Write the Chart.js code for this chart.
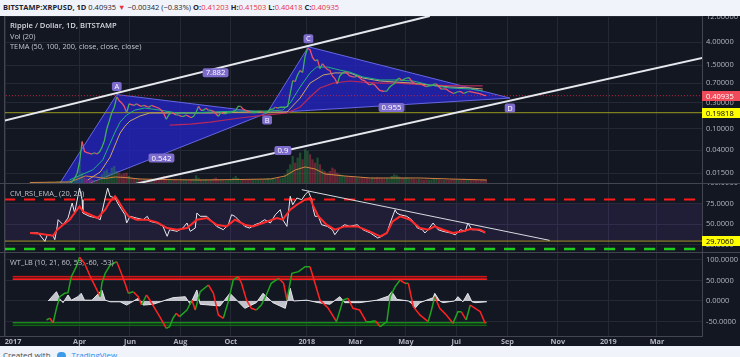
<!DOCTYPE html>
<html><head><meta charset="utf-8">
<script src="https://cdn.jsdelivr.net/npm/chart.js@4.4.1/dist/chart.umd.min.js"></script>
<style>
html,body{margin:0;padding:0;}
body{width:740px;height:357px;overflow:hidden;background:#f0f3fa;font-family:"Open Sans","Noto Sans",sans-serif;position:relative;}
#hdr{position:absolute;left:3px;top:0;height:16px;line-height:15px;font-size:7.5px;color:#1e222d;white-space:nowrap;}
#hdr b{font-weight:700}
#hdr .r{color:#e8313f}
#dark{position:absolute;left:0;top:16px;width:740px;height:330px;background:#131722;}
canvas{position:absolute;left:0;display:block}
#c1{top:16px}#c2{top:183px}#c3{top:252px}
#ftr{position:absolute;left:3px;top:350px;font-size:8px;line-height:10px;color:#4a4a4a;white-space:nowrap}
#ftr .tv{color:#2a8ef0}
#ftr .logo{display:inline-block;width:9px;height:6px;background:#3d9be9;border-radius:4px 4px 2px 2px;margin:0 6px 0 6px}
</style></head><body>
<div id="hdr"><b>BITSTAMP:XRPUSD, 1D</b> 0.40935 <span class="r">▼</span> −0.00342 (−0.83%) <b>O:</b><span class="r">0.41203</span> <b>H:</b><span class="r">0.41503</span> <b>L:</b><span class="r">0.40418</span> <b>C:</b><span class="r">0.40935</span></div>
<div id="dark"></div>
<canvas id="c1" width="740" height="167"></canvas>
<canvas id="c2" width="740" height="69"></canvas>
<canvas id="c3" width="740" height="94"></canvas>
<div id="ftr">Created with<span class="logo"></span><span class="tv">TradingView</span></div>
<script>
const FONT = '"Open Sans","Noto Sans",sans-serif';
const TXT = '#b2b5be', GRID = '#252936', AXIS = '#434651';
const X_MIN = -1.5, X_MAX = 843.5;          // days since 2017-01-01

// ---- time axis ----
const monthTickDays   = [0, 90, 151, 212, 273, 365, 424, 485, 546, 608, 669, 730, 789];
const monthTickLabels = ['2017','Apr','Jun','Aug','Oct','2018','Mar','May','Jul','Sep','Nov','2019','Mar'];

// ---- main pane: price (closes every 3 days from day 30) ----
const priceStartDay = 30, priceStepDays = 3;
const priceClose = [
 0.0064,0.0064,0.0063,0.0063,0.0062,0.0062,0.0063,0.0063,0.0064,0.0063,
 0.0064,0.0070,0.0075,0.0083,0.0088,0.0091,0.0095,0.0105,0.0120,0.0150,
 0.0240,0.0580,0.0380,0.0360,0.0350,0.0340,0.0360,0.0340,0.0370,0.0450,
 0.060,0.100,0.140,0.200,0.250,0.390,0.330,0.300,0.260,0.200,
 0.290,0.280,0.270,0.290,0.270,0.260,0.270,0.260,0.250,0.270,
 0.260,0.250,0.240,0.220,0.190,0.150,0.180,0.200,0.190,0.180,
 0.180,0.170,0.170,0.180,0.170,0.160,0.170,0.200,0.260,0.220,
 0.220,0.240,0.220,0.220,0.210,0.190,0.170,0.200,0.190,0.190,
 0.200,0.200,0.210,0.220,0.260,0.260,0.230,0.220,0.210,0.200,
 0.200,0.200,0.210,0.210,0.200,0.200,0.210,0.230,0.230,0.250,
 0.240,0.250,0.250,0.250,0.260,0.450,0.780,0.750,1.000,1.200,
 1.100,2.200,3.100,2.900,2.100,1.800,1.900,1.300,1.600,1.400,
 1.250,1.200,0.950,0.850,0.680,0.950,1.050,1.150,1.050,0.950,
 0.920,0.900,0.950,0.880,0.800,0.780,0.700,0.650,0.680,0.660,
 0.580,0.520,0.500,0.490,0.500,0.580,0.640,0.680,0.800,0.870,
 0.780,0.830,0.870,0.880,0.760,0.700,0.680,0.690,0.670,0.630,
 0.600,0.620,0.630,0.670,0.680,0.600,0.540,0.550,0.540,0.500,
 0.470,0.450,0.470,0.490,0.480,0.450,0.470,0.490,0.480,0.470,
 0.460,0.450,0.440,0.420,0.409];
const volume = [
 1,2,1,1,2,1,1,2,3,2,
 2,4,5,6,4,6,8,7,12,20,
 60,30,15,12,10,9,8,7,12,25,
 35,40,30,45,50,35,30,25,28,30,
 20,15,12,14,12,10,11,9,10,12,
 10,9,12,14,20,12,10,9,8,8,
 7,8,9,8,9,10,12,22,15,10,
 9,10,8,9,12,15,10,8,8,7,
 8,9,15,20,14,10,9,8,8,9,
 9,10,9,11,10,12,14,13,12,12,
 14,13,15,25,40,55,80,60,75,90,
 70,100,95,85,70,60,75,55,40,35,
 30,35,45,40,30,25,22,20,18,20,
 18,16,15,14,16,15,14,13,15,14,
 16,14,13,12,14,12,20,25,22,18,
 15,14,16,13,12,11,10,11,10,9,
 10,9,10,12,11,10,9,8,9,8,
 10,9,8,8,9,12,10,9,8,8,
 8,7,8,9,8];
const volMaDays = [30,78,88,97,109,121,133,145,163,187,236,284,321,339,351,363,375,387,411,442,502,538,583];
const volMaVals = [1.5,3,12,21,18,13.5,18,16.5,12,10.5,9,10.5,12,21,39,48,42,27,21,15,15,12,9];

const tema50Days = [78,106,118,127,133,139,147,157,169,187,208,227,248,284,320,336,345,357,369,377,390,405,417,433,454,474,494,514,538,563,578];
const tema50Vals = [0.0113,0.0173,0.0264,0.054,0.087,0.133,0.18,0.222,0.242,0.222,0.196,0.196,0.204,0.213,0.213,0.222,0.30,0.593,1.08,1.39,1.39,1.22,1.12,0.91,0.80,0.80,0.766,0.645,0.57,0.545,0.50];
const tema100Days = [100,115,127,133,139,145,151,163,175,208,248,296,341,357,369,385,399,417,433,454,474,494,514,538,563,578];
const tema100Vals = [0.0113,0.0158,0.030,0.050,0.083,0.112,0.139,0.172,0.196,0.196,0.196,0.204,0.204,0.37,0.70,0.99,1.08,1.08,0.87,0.766,0.73,0.70,0.645,0.593,0.57,0.545];
const tema200Days = [199,224,248,284,317,341,357,369,381,397,417,433,454,474,514,550,578];
const tema200Vals = [0.117,0.122,0.133,0.158,0.18,0.196,0.253,0.387,0.57,0.70,0.766,0.73,0.70,0.70,0.645,0.62,0.62];

const priceTicks = [12, 4, 1.5, 0.7, 0.3, 0.1, 0.04, 0.015];
const lastPrice = 0.40935, levelPrice = 0.19818;

// XABCD pattern drawing
const patternNames  = ['X','A','B','C','D'];
const patternDays   = [54, 135, 317, 367, 611];
const patternPrices = [0.0050, 0.43, 0.196, 3.3, 0.37];
const ratioFrom = [1, 0, 2, 0], ratioTo = [3, 2, 4, 4];
const ratioText = ['7.882', '0.542', '0.955', '0.9'];
// channel lines
const upperChDays = [-2, 514],  upperChPrices = [0.140, 12.25];
const lowerChDays = [50, 845],  lowerChPrices = [0.0041, 2.06];

// ---- RSI pane ----
const rsiDays = [30,40,48,51,58,60,63,64,70,76,81,84,88,90,93,94,102,111,115,121,124,127,133,136,141,145,147,151,159,167,172,175,184,191,196,199,208,215,220,224,230,232,236,244,250,256,264,270,274,278,284,290,296,302,308,314,321,327,333,336,341,345,348,353,359,363,367,371,373,375,379,383,390,396,399,405,411,417,426,433,442,451,456,462,466,472,474,478,486,492,499,505,508,512,518,524,530,539,545,551,557,560,565,571,577,581];
const rsiVals = [39.5,39.5,29.4,37.4,36,31.4,48,55.6,49.5,57.6,75.8,63.7,83.9,93.9,79.8,63.7,59.7,57.6,55.6,81.8,93.9,83.9,81.8,75.8,67.7,61.6,51.6,59.7,57.6,55.6,59.7,53.6,51.6,47.5,35.5,43.5,41.5,45.5,51.6,41.5,45.5,63.7,59.7,59.7,53.6,47.5,43.5,49.5,61.6,59.7,53.6,47.5,45.5,49.5,51.6,55.6,51.6,61.6,67.7,55.6,47.5,83.9,73.7,81.8,79.8,85.9,89.9,79.8,67.7,59.7,59.7,49.5,47.5,43.5,37.4,45.5,49.5,47.5,49.5,43.5,39.5,33.4,35.5,39.5,51.6,67.7,63.7,61.6,59.7,55.6,45.5,43.5,39.5,43.5,51.6,43.5,41.5,39.5,37.4,43.5,41.5,51.6,43.5,43.5,41.5,39.5];
const emaDays = [30,42,58,63,70,78,84,90,94,103,112,121,127,133,136,142,149,159,172,184,196,208,220,232,244,256,268,278,290,300,312,329,336,345,353,363,369,373,379,389,399,411,426,441,454,462,469,478,490,502,512,520,530,542,554,563,575,581];
const emaVals = [39.5,38.6,36.2,43.5,49.5,55.6,63.7,71.8,65.7,61.6,57.6,67.7,77.8,83.9,79.8,69.7,59.7,55.6,55.6,52.4,45.5,43.5,45.5,55.6,57.6,49.5,47.5,55.6,49.5,47.5,51.6,57.6,55.6,67.7,73.7,79.8,81.8,71.8,59.7,49.5,43.5,47.5,47.5,41.5,35.5,39.5,53.6,59.7,55.6,45.5,43.5,47.5,43.5,39.5,41.5,44.3,43.5,40.3];
const rsiTrendDays = [359, 659], rsiTrendVals = [91.9, 30.6];
const rsiTicks = [100, 75, 50, 25];
const rsiUpper = 80, rsiLower = 20, rsiLevel = 29.706, rsiBandTop = 75, rsiBandBottom = 30;

// ---- WaveTrend pane ----
const wtDays = [50,54,58,62,66,72,76,80,86,90,96,103,109,115,117,121,127,135,139,145,149,155,161,165,171,175,181,187,195,199,203,207,211,220,226,230,236,246,252,258,264,270,276,282,286,292,298,304,310,316,322,331,337,341,347,355,363,369,375,381,391,401,409,415,421,429,437,442,448,454,462,466,472,478,484,488,494,502,512,516,520,526,534,542,548,552,558,563,569,575,581];
const wtVals = [-46.3,-42,-53,-17.9,10.5,18.7,20.3,59.3,83.7,106.5,92,59.3,35,10.5,43,67.5,87.8,95.9,75.6,43.2,18.7,22.7,10.5,-9.8,14.6,2.4,-17.9,-38.2,-66.7,-62.6,-42.3,-30,-38.2,-22,2.4,-22,22.7,39,18.7,-34,-42.3,-1.6,51.2,59.3,43.2,2.4,-17.9,-22,-9.8,14.6,43.2,55.4,43.2,2.4,67.5,71.5,83.7,83.7,43.2,2.4,-17.9,-50.4,2.4,6.5,-17.9,-22,-50.4,-50.4,-48,-62.6,-50.4,10.5,35,51.2,43.2,43.2,-13.8,-34,-50.4,-22,10.5,-17.9,-34,-54.5,-26.1,-26.1,-46.3,-9.8,-17.9,-26.1,-54.5];
const wtHistDays = [52,62,66,70,76,80,88,92,96,105,113,117,121,127,139,147,161,167,179,203,218,224,232,236,260,272,290,304,312,324,339,345,349,365,379,393,405,411,429,450,464,468,474,488,492,496,502,518,520,526,530,544,548,554,560,565,569,583];
const wtHistVals = [0,22.7,5,-4,14.6,2,10.5,18.7,2,2,18.7,26.8,2,-2,-2,-10,6.5,-10,-8,8,10.5,-8,26.8,-8,-12,18.7,-18,-4,18.7,-4,-18,31,0,2,-4,-8,10.5,-4,-4,2,12,22.7,4,0,-6,-18,-4,8,18.7,0,-4,0,10.5,-2,18.7,-2,-4,-2];
const wtLevels = [60, 53, -53, -60];
const wtLevelDays = [9, 583];
const wtTicks = [100, 50, 0, -50];

// ---------------- helpers ----------------
Chart.defaults.font.family = FONT;
const pts = (days, vals) => days.map((d, i) => ({x: d, y: vals[i]}));
const priceDays = priceClose.map((_, i) => priceStartDay + i * priceStepDays);
const hline = (v, d0, d1) => [{x: d0, y: v}, {x: d1, y: v}];
const lineDs = (data, color, width, extra) => Object.assign({type: 'line', data, borderColor: color, borderWidth: width,
  pointRadius: 0, pointHoverRadius: 0, tension: 0, fill: false}, extra || {});

function xScale() {
  return {type: 'linear', min: X_MIN, max: X_MAX, offset: false, display: true,
    afterBuildTicks: s => { s.ticks = monthTickDays.map(v => ({value: v})); },
    afterFit: s => { s.height = 0; s.paddingLeft = 0; s.paddingRight = 0; },
    ticks: {display: false}, grid: {color: GRID, drawTicks: false, offset: false}, border: {display: false}};
}
function yScale(type, min, max, tickVals, dec) {
  return {type, position: 'right', min, max,
    afterBuildTicks: s => { s.ticks = tickVals.map(v => ({value: v})); },
    afterFit: s => { s.width = 38; s.paddingTop = 0; s.paddingBottom = 0; },
    ticks: {color: TXT, font: {family: FONT, size: 7.5}, padding: 4, autoSkip: false, callback: v => Number(v).toFixed(dec)},
    grid: {color: GRID, drawTicks: false}, border: {display: true, color: AXIS}};
}
function baseOpts(scales, padBottom) {
  return {responsive: false, animation: false, events: [], devicePixelRatio: 1,
    layout: {padding: {left: 4, right: 0, top: 0, bottom: padBottom}},
    plugins: {legend: {display: false}, tooltip: {enabled: false}}, scales};
}
function rr(ctx, x, y, w, h, r) {
  ctx.beginPath(); ctx.moveTo(x + r, y); ctx.arcTo(x + w, y, x + w, y + h, r); ctx.arcTo(x + w, y + h, x, y + h, r);
  ctx.arcTo(x, y + h, x, y, r); ctx.arcTo(x, y, x + w, y, r); ctx.closePath();
}
function tag(ctx, text, cx, cy, bg, fg, size, padX, h) {
  ctx.font = `${size}px ${FONT}`;
  const w = ctx.measureText(text).width + padX * 2;
  rr(ctx, cx - w / 2, cy - h / 2, w, h, 2); ctx.fillStyle = bg; ctx.fill();
  ctx.fillStyle = fg; ctx.textAlign = 'center'; ctx.textBaseline = 'middle'; ctx.fillText(text, cx, cy + 0.5);
}
function axisBox(chart, scaleId, value, text, bg, fg) {
  const ctx = chart.ctx, y = chart.scales[scaleId].getPixelForValue(value), a = chart.chartArea;
  ctx.fillStyle = bg; ctx.fillRect(a.right, Math.round(y) - 5, chart.width - a.right, 10);
  ctx.fillStyle = fg; ctx.font = `7.5px ${FONT}`; ctx.textAlign = 'left'; ctx.textBaseline = 'middle';
  ctx.fillText(text, a.right + 4, Math.round(y) + 0.5);
}
function frame(chart, top) {
  const ctx = chart.ctx, a = chart.chartArea;
  ctx.save(); ctx.strokeStyle = AXIS; ctx.lineWidth = 1;
  ctx.beginPath(); ctx.moveTo(a.left + 0.5, a.top); ctx.lineTo(a.left + 0.5, a.bottom); ctx.stroke();
  if (top) { ctx.beginPath(); ctx.moveTo(0, 0.5); ctx.lineTo(chart.width, 0.5); ctx.stroke(); }
  ctx.restore();
}
function legend(ctx, lines) {
  ctx.save(); ctx.textAlign = 'left'; ctx.textBaseline = 'middle';
  lines.forEach(l => { ctx.font = l.f; ctx.fillStyle = l.c; ctx.fillText(l.t, l.x, l.y); });
  ctx.restore();
}

// ---------------- main pane ----------------
const up = '#3fae5a', dn = '#f0506a';
const volColors = volume.map((_, i) => (i === 0 || priceClose[i] >= priceClose[i - 1]) ? 'rgba(50,150,70,0.42)' : 'rgba(220,60,80,0.42)');

const mainPlugin = {
  id: 'mainDraw',
  beforeDatasetsDraw(chart) {
    const {ctx, chartArea: a, scales: {x, y}} = chart;
    const P = k => [x.getPixelForValue(patternDays[k]), y.getPixelForValue(patternPrices[k])];
    ctx.save(); ctx.beginPath(); ctx.rect(a.left, a.top, a.right - a.left, a.bottom - a.top); ctx.clip();
    [[0, 1, 2], [2, 3, 4]].forEach(tri => {
      ctx.beginPath();
      tri.forEach((k, j) => { const [px, py] = P(k); j ? ctx.lineTo(px, py) : ctx.moveTo(px, py); });
      ctx.closePath(); ctx.fillStyle = 'rgba(36,36,196,0.78)'; ctx.fill();
      ctx.strokeStyle = 'rgba(110,110,240,0.9)'; ctx.lineWidth = 1; ctx.stroke();
    });
    ctx.restore();
  },
  afterDatasetsDraw(chart) {
    const {ctx, scales: {x, y}} = chart;
    const P = k => [x.getPixelForValue(patternDays[k]), y.getPixelForValue(patternPrices[k])];
    ctx.save();
    ratioText.forEach((t, i) => {
      const [x1, y1] = P(ratioFrom[i]), [x2, y2] = P(ratioTo[i]);
      tag(ctx, t, (x1 + x2) / 2 + 3, (y1 + y2) / 2 + 2, '#7e6ccc', '#ffffff', 7.8, 3, 9);
    });
    patternNames.forEach((n, k) => {
      if (k === 0) return;
      const [px, py] = P(k);
      const dy = (n === 'A' || n === 'C') ? -8 : (n === 'D' ? 10 : 7);
      tag(ctx, n, px, py + dy, '#7e6ccc', '#ffffff', 7.5, 2.5, 9);
    });
    ctx.restore();
  },
  afterDraw(chart) {
    frame(chart, false);
    axisBox(chart, 'y', lastPrice, '0.40935', '#f04b5b', '#ffffff');
    axisBox(chart, 'y', levelPrice, '0.19818', '#ffff00', '#000000');
    legend(chart.ctx, [
      {t: 'Ripple / Dollar, 1D, BITSTAMP', x: 10, y: 10, f: `600 7.6px ${FONT}`, c: '#d6d8de'},
      {t: 'Vol (20)', x: 10, y: 20.5, f: `7.4px ${FONT}`, c: '#c3c6ce'},
      {t: 'TEMA (50, 100, 200, close, close, close)', x: 10, y: 31, f: `7.4px ${FONT}`, c: '#c3c6ce'}]);
  }
};

new Chart(document.getElementById('c1'), {
  type: 'line',
  data: {datasets: [
    lineDs(pts(upperChDays, upperChPrices), '#e6e8ee', 2, {order: 1}),
    lineDs(pts(lowerChDays, lowerChPrices), '#e6e8ee', 2, {order: 1}),
    lineDs(pts(priceDays, priceClose), dn, 1.3, {order: 2,
      segment: {borderColor: c => c.p1.parsed.y >= c.p0.parsed.y ? up : dn}}),
    lineDs(pts(tema50Days, tema50Vals), '#22b07e', 1, {order: 3}),
    lineDs(pts(tema100Days, tema100Vals), '#c9a46c', 1, {order: 4}),
    lineDs(pts(tema200Days, tema200Vals), '#b8285a', 1.2, {order: 5}),
    lineDs(hline(lastPrice, X_MIN - 5, X_MAX + 5), '#c8283e', 1, {order: 6, borderDash: [1, 2]}),
    lineDs(hline(levelPrice, X_MIN - 5, X_MAX + 5), '#99991e', 1, {order: 7}),
    lineDs(pts(volMaDays, volMaVals), '#cf8440', 1, {order: 8, yAxisID: 'yVol'}),
    {type: 'bar', data: pts(priceDays, volume), yAxisID: 'yVol', backgroundColor: volColors, barThickness: 1.6, order: 9}
  ]},
  options: baseOpts({
    x: xScale(),
    y: yScale('logarithmic', 0.009895, 12.245, priceTicks, 5),
    yVol: {type: 'linear', display: false, min: 0, max: 500}
  }, 0),
  plugins: [mainPlugin]
});

// ---------------- RSI pane ----------------
const rsiPlugin = {
  id: 'rsiDraw',
  beforeDatasetsDraw(chart) {
    const {ctx, chartArea: a, scales: {y}} = chart;
    const t = y.getPixelForValue(rsiBandTop), b = y.getPixelForValue(rsiBandBottom);
    ctx.save(); ctx.fillStyle = 'rgba(126,70,200,0.13)'; ctx.fillRect(a.left, t, a.right - a.left, b - t); ctx.restore();
  },
  afterDraw(chart) {
    frame(chart, true);
    axisBox(chart, 'y', rsiLevel, '29.7060', '#ffff00', '#000000');
    legend(chart.ctx, [{t: 'CM_RSI_EMA_ (20, 20)', x: 10, y: 11, f: `7.4px ${FONT}`, c: '#c3c6ce'}]);
  }
};
new Chart(document.getElementById('c2'), {
  type: 'line',
  data: {datasets: [
    lineDs(pts(rsiTrendDays, rsiTrendVals), '#d8dae0', 1, {order: 1}),
    lineDs(pts(emaDays, emaVals), '#ff2a2a', 2, {order: 2}),
    lineDs(pts(rsiDays, rsiVals), '#e8e8ec', 1, {order: 3}),
    lineDs(hline(rsiLevel, X_MIN - 5, X_MAX + 5), '#a8952a', 1, {order: 4}),
    lineDs(hline(rsiUpper, X_MIN, X_MAX + 5), '#ff1a1a', 2, {order: 5, borderDash: [11, 9]}),
    lineDs(hline(rsiLower, X_MIN, X_MAX + 5), '#1ecb1e', 2.5, {order: 6, borderDash: [11, 9]})
  ]},
  options: baseOpts({x: xScale(), y: yScale('linear', 16.5, 100, rsiTicks, 4)}, 0),
  plugins: [rsiPlugin]
});

// ---------------- WaveTrend pane ----------------
const wtPlugin = {
  id: 'wtDraw',
  afterDraw(chart) {
    const {ctx, chartArea: a, scales: {x}} = chart;
    frame(chart, true);
    ctx.save(); ctx.strokeStyle = AXIS; ctx.beginPath(); ctx.moveTo(0, a.bottom + 0.5); ctx.lineTo(a.right, a.bottom + 0.5); ctx.stroke();
    ctx.font = `bold 7.3px ${FONT}`; ctx.fillStyle = TXT; ctx.textAlign = 'center'; ctx.textBaseline = 'middle';
    monthTickDays.forEach((d, i) => ctx.fillText(monthTickLabels[i], Math.max(x.getPixelForValue(d), 13), a.bottom + 5.5));
    ctx.restore();
    legend(ctx, [{t: 'WT_LB (10, 21, 60, 53, -60, -53)', x: 10, y: 10.5, f: `7.4px ${FONT}`, c: '#c3c6ce'}]);
  }
};
new Chart(document.getElementById('c3'), {
  type: 'line',
  data: {datasets: [
    lineDs(pts(wtDays, wtVals), '#ff2222', 1.5, {order: 1,
      segment: {borderColor: c => c.p1.parsed.y >= c.p0.parsed.y ? '#1fa51f' : '#ff2222'}}),
    lineDs(pts(wtHistDays, wtHistVals), 'rgba(235,235,240,0.95)', 1, {order: 2, fill: 'origin', backgroundColor: 'rgba(225,225,232,0.85)'}),
    lineDs(hline(wtLevels[0], wtLevelDays[0], wtLevelDays[1]), '#e01818', 1, {order: 3, fill: '+1', backgroundColor: 'rgba(230,20,20,0.45)'}),
    lineDs(hline(wtLevels[1], wtLevelDays[0], wtLevelDays[1]), '#ff2020', 1.5, {order: 3}),
    lineDs(hline(wtLevels[2], wtLevelDays[0], wtLevelDays[1]), '#158c15', 1.2, {order: 4, fill: '+1', backgroundColor: 'rgba(20,120,20,0.3)'}),
    lineDs(hline(wtLevels[3], wtLevelDays[0], wtLevelDays[1]), '#0f6a0f', 1, {order: 4})
  ]},
  options: baseOpts({x: xScale(), y: yScale('linear', -85.4, 119.5, wtTicks, 4)}, 10),
  plugins: [wtPlugin]
});
</script>
</body></html>
